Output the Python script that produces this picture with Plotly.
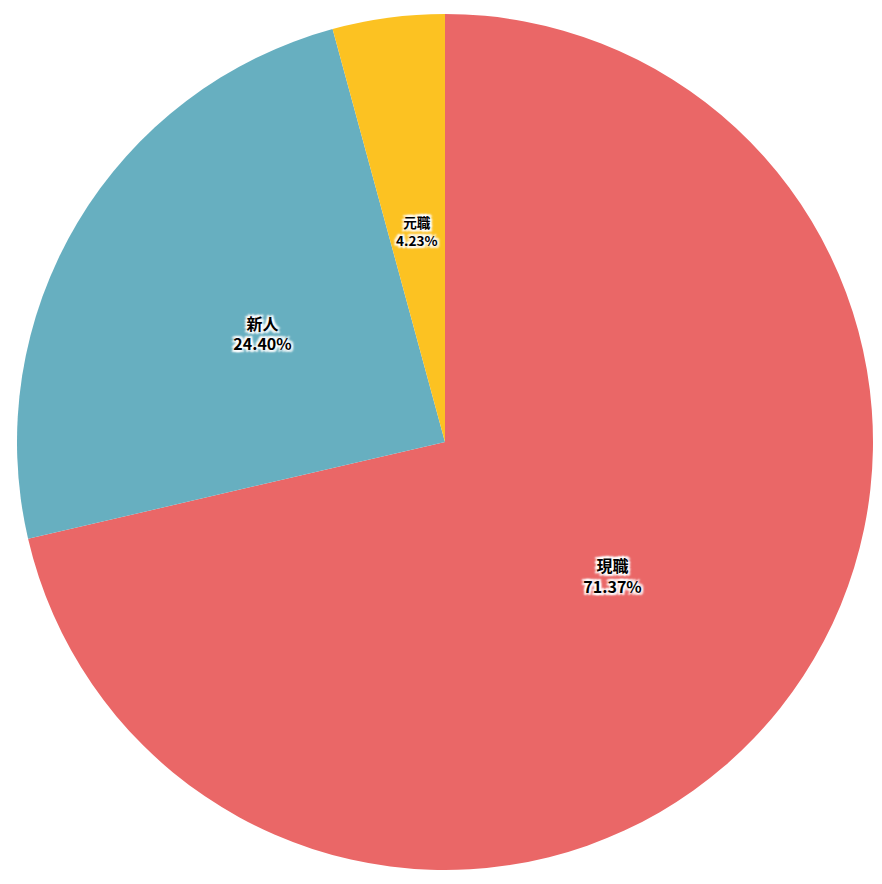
import plotly.graph_objects as go

labels = ["現職", "新人", "元職"]
values = [71.37, 24.40, 4.23]
colors = ["#EA6767", "#67AFC0", "#FCC222"]
tmpl = "%{label}<br>%{percent:.2%}"

halo = ("-2px -2px 2px white, 2px 2px 2px white, 2px -2px 2px white, -2px 2px 2px white, "
        "0 0 3px white, 0 0 3px white, 0 0 2px white")
font = dict(family="Noto Sans CJK JP", size=16, color="#000000", weight="bold", shadow=halo)

PLOT_W, PLOT_H = 856, 858


def domain_for(radius_px):
    hx = radius_px / PLOT_W
    hy = radius_px / PLOT_H
    return dict(x=[0.5 - hx, 0.5 + hx], y=[0.5 - hy, 0.5 + hy])


fig = go.Figure()
fig.add_trace(go.Pie(
    labels=labels,
    values=values,
    sort=False,
    direction="clockwise",
    rotation=0,
    marker=dict(colors=colors, line=dict(width=0)),
    texttemplate=[tmpl, "", ""],
    textposition="inside",
    insidetextorientation="horizontal",
    textfont=font,
    hoverinfo="label+percent",
))
# transparent overlay pies used only to place the other labels at the same radius as the reference
for shown, radius in [(1, 360), (2, 241)]:
    tt = ["", "", ""]
    tt[shown] = tmpl
    fig.add_trace(go.Pie(
        labels=labels,
        values=values,
        sort=False,
        direction="clockwise",
        rotation=0,
        marker=dict(colors=["rgba(0,0,0,0)"] * 3, line=dict(width=0)),
        texttemplate=tt,
        textposition="inside",
        insidetextorientation="horizontal",
        textfont=font,
        hoverinfo="skip",
        domain=domain_for(radius),
    ))

fig.update_layout(
    width=882,
    height=884,
    margin=dict(l=9, r=17, t=5, b=21),
    showlegend=False,
    paper_bgcolor="white",
    plot_bgcolor="white",
)

fig.write_html("out.html")
